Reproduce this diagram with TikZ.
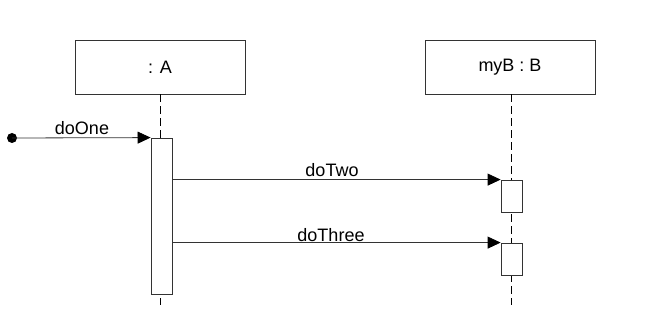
\documentclass[tikz,border=0pt]{standalone}
\usepackage{fontspec}
\setmainfont{Liberation Sans}
\usetikzlibrary{arrows.meta,positioning}

\tikzset{
  object/.style={draw=black!80, line width=0.8pt, minimum width=170pt, minimum height=54pt, inner sep=0pt, font=\fontsize{18}{21}\selectfont},
  activation/.style={draw=black!80, fill=white, line width=0.8pt, minimum width=21pt, inner sep=0pt},
  lifeline/.style={line width=0.9pt, dash pattern=on 8pt off 4pt},
  msg/.style={draw=black!80, line width=0.8pt, -{Triangle[length=13pt,width=12pt,color=black]}},
  msglabel/.style={font=\fontsize{18}{21}\selectfont, inner sep=0pt}
}

\begin{document}
\begin{tikzpicture}[x=1pt, y=-1pt]
  \useasboundingbox (0,0) rectangle (655,328);

  % objects
  \node[object] (objA) at (160,67) {: A};
  \node[object] (objB) at (510,67) {myB : B};

  % lifelines
  \coordinate (endA) at (160,305);
  \coordinate (endB) at (511,305);
  \draw[lifeline] (objA.south) -- (endA);
  \draw[lifeline] (objB.south -| endB) -- (endB);

  % activations
  \node[activation, minimum height=156pt] (actA) at (161.5,216) {};
  \node[activation, minimum height=32pt] (actB1) at (511.5,196) {};
  \node[activation, minimum height=32pt] (actB2) at (511.5,259) {};

  % found message
  \node[circle, fill=black, minimum size=10pt, inner sep=0pt] (start) at (12,138) {};
  \draw[msg] (start.center) -- (actA.north west);
  \node[msglabel] (lblOne) at (82,128) {doOne};

  % messages A -> B
  \draw[msg] (actA.east |- actB1.north) -- (actB1.north west);
  \node[msglabel] (lblTwo) at (332,170) {doTwo};
  \draw[msg] (actA.east |- actB2.north) -- (actB2.north west);
  \node[msglabel] (lblThree) at (331,235) {doThree};
\end{tikzpicture}
\end{document}
